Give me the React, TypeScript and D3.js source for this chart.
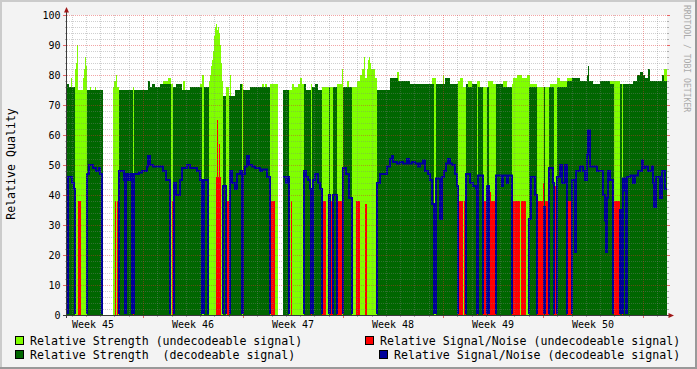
import React from 'react';
import * as d3 from 'd3';

// ---------------- data ----------------
// one sample per 100.8 minutes, starting Tue 2005-11-08 16:19:12 UTC (ISO week 45)
const seriesStartUtc = Date.UTC(2005, 10, 8, 16, 19, 12);
const sampleMinutes = 100.8;
const sampleCount = 600;
// sample ranges without any data [from, to)
const gapSamples: [number, number][] = [[36, 46], [211, 216]];

// step series: [sampleIndex, value] -> value holds until next entry
const strengthUndecodeableSteps: [number, number][] = [[0,0],[1,76],[3,0],[4,79],[5,0],[8,82],[9,84],[10,90],[11,75],[16,79],[17,82],[18,86],[19,83],[20,0],[23,76],[24,0],[28,76],[29,0],[46,76],[47,78],[49,80],[50,76],[52,0],[66,76],[67,0],[96,78],[101,79],[104,77],[106,0],[110,77],[114,0],[116,78],[118,0],[133,77],[135,80],[137,0],[142,78],[143,80],[144,83],[145,85],[146,88],[147,93],[148,96],[149,97],[150,95],[151,96],[152,94],[153,90],[154,84],[155,78],[156,0],[159,76],[162,0],[163,80],[164,0],[175,77],[176,0],[195,77],[197,0],[198,77],[200,0],[203,77],[211,0],[222,75],[225,77],[227,76],[231,77],[233,79],[235,77],[237,0],[244,77],[245,0],[255,76],[262,0],[263,76],[266,0],[270,77],[275,82],[276,0],[280,78],[282,0],[285,76],[290,78],[293,80],[295,82],[297,86],[298,79],[300,82],[301,85],[302,86],[303,84],[304,82],[308,79],[310,0],[330,81],[332,0],[365,79],[369,0],[376,80],[377,0],[391,78],[393,79],[396,76],[400,0],[401,78],[405,0],[410,78],[413,0],[416,76],[421,78],[426,77],[429,0],[436,78],[440,0],[445,77],[446,79],[450,80],[455,79],[460,80],[463,77],[470,76],[483,77],[490,79],[493,78],[500,79],[505,0],[543,78],[553,77],[560,0],[593,78],[595,0],[597,82]];

const snrUndecodeableSteps: [number, number][] = [[0,0],[11,38],[14,0],[48,38],[49,0],[50,38],[51,0],[66,38],[67,0],[105,38],[106,0],[149,46],[150,65],[151,46],[152,57],[153,46],[154,0],[160,38],[162,0],[204,38],[208,0],[224,38],[225,0],[244,38],[245,0],[255,38],[259,0],[263,38],[266,0],[270,38],[275,0],[289,38],[293,0],[298,37],[300,0],[391,38],[396,0],[397,38],[399,0],[410,38],[411,0],[416,38],[420,0],[421,41],[424,38],[429,0],[445,38],[453,0],[454,38],[459,0],[470,38],[476,44],[477,0],[478,38],[482,0],[487,43],[490,0],[500,38],[505,0],[547,38],[553,0],[555,38],[556,0]];

const strengthDecodeableSteps: [number, number][] = [[0,77],[2,76],[8,0],[20,75],[36,0],[52,75],[66,0],[67,75],[81,78],[83,76],[85,77],[88,76],[93,77],[104,0],[106,76],[109,77],[115,75],[123,76],[135,0],[137,76],[142,0],[156,73],[159,0],[162,73],[168,75],[173,77],[175,0],[176,75],[183,76],[203,0],[216,75],[222,0],[237,77],[239,75],[244,0],[245,76],[248,77],[251,75],[255,0],[262,76],[263,0],[266,76],[270,0],[276,76],[285,0],[310,75],[323,79],[331,78],[343,77],[367,0],[369,77],[378,79],[383,77],[391,0],[399,77],[401,76],[405,77],[410,0],[411,76],[416,0],[420,76],[422,0],[429,77],[436,76],[445,0],[462,76],[470,0],[477,76],[478,0],[482,76],[487,0],[490,76],[500,78],[505,79],[513,78],[520,80],[521,83],[522,78],[526,77],[533,78],[543,77],[547,0],[553,77],[555,0],[556,77],[566,78],[570,80],[573,81],[576,80],[578,79],[581,82],[583,78],[595,80],[597,78]];

const snrDecodeableSteps: [number, number][] = [[0,0],[1,46],[5,44],[7,42],[8,0],[20,47],[22,50],[26,49],[29,48],[32,49],[33,47],[35,0],[52,48],[57,45],[58,0],[59,47],[61,45],[63,47],[65,0],[67,47],[72,47.5],[75,48],[80,49.5],[81,53],[83,50],[86,49.5],[96,48],[99,45],[103,0],[107,44],[109,40],[113,45],[115,49],[120,50],[123,49],[130,48],[133,45],[135,0],[137,45],[141,0],[156,43],[159,0],[163,48],[165,44],[168,42],[170,47],[173,48],[175,0],[176,47],[178,49.5],[180,53],[182,50],[185,49.5],[188,49],[193,48],[195,48.5],[200,46],[203,0],[216,46],[219,44],[221,46],[222,0],[237,48],[239,46],[241,45],[243,42],[244,0],[246,45],[248,47],[251,44],[253,42],[255,0],[262,40],[263,0],[266,40],[270,0],[276,49],[279,47],[282,39],[285,0],[310,44],[313,47],[320,49.5],[323,52],[325,53],[326,51],[330,50.5],[333,51],[336,50.5],[340,52],[342,50.5],[345,51],[348,50.5],[351,49.5],[353,50.5],[356,51.5],[358,48],[361,47],[363,45],[365,37],[367,0],[369,45.5],[373,32],[375,46],[377,48],[379,50.5],[381,52],[383,50.5],[385,50],[388,47],[390,43],[391,0],[399,47],[403,44],[406,43],[409,42],[410,0],[411,46.5],[416,0],[420,43],[422,0],[429,46.5],[435,43],[436,46.5],[440,44],[441,46.5],[445,0],[462,32],[464,46],[468,40],[470,0],[477,36],[478,0],[482,49],[486,44],[487,0],[490,46],[493,50],[495,44],[498,50],[500,0],[505,45],[508,21],[509,48],[513,49.5],[516,48],[518,45],[520,53.5],[521,61.5],[523,49.5],[530,48],[536,40],[538,31.5],[539,21],[540,39],[541,48],[543,45],[546,0],[553,35],[555,0],[556,45.5],[558,41.5],[559,0],[560,46],[563,46.5],[566,44],[568,46.5],[571,48],[575,51.5],[576,49],[578,49.5],[581,48],[585,49.5],[586,44],[587,36],[589,46],[593,39],[595,48],[598,42]];

const weekLabels = ['Week 45', 'Week 46', 'Week 47', 'Week 48', 'Week 49', 'Week 50'];
const yTickValues = [0, 10, 20, 30, 40, 50, 60, 70, 80, 90, 100];
const yMinorStep = 2;
const yTitle = 'Relative Quality';
const watermark = 'RRDTOOL / TOBI OETIKER';

const legendRows = [
  [
    { label: 'Relative Strength (undecodeable signal)', color: '#80FF00' },
    { label: 'Relative Signal/Noise (undecodeable signal)', color: '#FF0000' },
  ],
  [
    { label: 'Relative Strength  (decodeable signal)', color: '#006600' },
    { label: 'Relative Signal/Noise (decodeable signal)', color: '#000099' },
  ],
];

// ---------------- helpers ----------------
function expand(steps: [number, number][]): number[] {
  const out = new Array(sampleCount).fill(0);
  for (let k = 0; k < steps.length; k++) {
    const from = steps[k][0];
    const to = k + 1 < steps.length ? steps[k + 1][0] : sampleCount;
    for (let i = from; i < to; i++) out[i] = steps[k][1];
  }
  return out;
}

const FONT = "'DejaVu Sans Mono', monospace";

export default function App() {
  const W = 697, H = 369;
  const left = 67, right = 667, top = 15, bottom = 315;
  const stepMs = sampleMinutes * 60000;
  const t0 = seriesStartUtc;
  const t1 = t0 + sampleCount * stepMs;

  const x = d3.scaleUtc().domain([new Date(t0), new Date(t1)]).range([left, right]);
  const y = d3.scaleLinear().domain([0, 100]).range([bottom, top]);

  const isGap = (i: number) => gapSamples.some(([a, b]) => i >= a && i < b);
  const segments: [number, number][] = [];
  let s = -1;
  for (let i = 0; i <= sampleCount; i++) {
    const ok = i < sampleCount && !isGap(i);
    if (ok && s < 0) s = i;
    if (!ok && s >= 0) { segments.push([s, i]); s = -1; }
  }

  type P = { t: number; v: number };
  const segPoints = (vals: number[]) =>
    segments.map(([a, b]) => {
      const pts: P[] = [];
      for (let i = a; i < b; i++) pts.push({ t: t0 + i * stepMs, v: vals[i] });
      pts.push({ t: t0 + b * stepMs, v: vals[b - 1] });
      return pts;
    });

  const area = d3.area<P>().x(p => x(new Date(p.t))).y0(y(0)).y1(p => y(p.v)).curve(d3.curveStepAfter);
  const line = d3.line<P>().x(p => x(new Date(p.t))).y(p => y(p.v)).curve(d3.curveStepAfter);

  const sU = segPoints(expand(strengthUndecodeableSteps));
  const nU = segPoints(expand(snrUndecodeableSteps));
  const sD = segPoints(expand(strengthDecodeableSteps));
  const nD = segPoints(expand(snrDecodeableSteps));

  // grid
  const days = d3.utcDay.range(new Date(t0), new Date(t1));
  const mondays = d3.utcMonday.range(d3.utcMonday.floor(new Date(t0)), new Date(t1));
  const minorY: number[] = [];
  for (let v = yMinorStep; v < 100; v += yMinorStep) if (v % 10 !== 0) minorY.push(v);

  const minorCol = 'rgba(128,128,128,0.38)';
  const majorCol = 'rgba(225,40,40,0.42)';
  const axisCol = '#3A3A3A';
  const arrowCol = '#A01818';

  return (
    <div style={{ position: 'absolute', left: 0, top: 0 }}>
      <svg width={W} height={H} style={{ display: 'block' }} fontFamily={FONT}>
        <defs>
          <clipPath id="plotClip"><rect x={left} y={top} width={right - left} height={bottom - top} /></clipPath>
          <clipPath id="lineClip"><rect x={left} y={top - 2} width={right - left} height={bottom - top + 1} /></clipPath>
        </defs>
        {/* background + 3d border */}
        <rect x={0} y={0} width={W} height={H} fill="#F3F3F3" />
        <rect x={0} y={0} width={W} height={2} fill="#CBCBCB" />
        <rect x={0} y={0} width={2} height={H} fill="#CBCBCB" />
        <rect x={0} y={H - 2} width={W} height={2} fill="#999999" />
        <rect x={W - 2} y={0} width={2} height={H} fill="#999999" />
        {/* canvas */}
        <rect x={left} y={top} width={right - left} height={bottom - top} fill="#FFFFFF" />

        <g clipPath="url(#plotClip)">
          {sU.map((pts, k) => <path key={'su' + k} d={area(pts) || ''} fill="#80FF00" />)}
          {sD.map((pts, k) => <path key={'sd' + k} d={area(pts) || ''} fill="#006600" />)}
          {nU.map((pts, k) => <path key={'nu' + k} d={area(pts) || ''} fill="#FF0000" />)}
        </g>
        <g clipPath="url(#lineClip)">
          {nD.map((pts, k) => <path key={'nd' + k} d={line(pts) || ''} fill="none" stroke="#000099" strokeWidth={2} />)}
        </g>

        {/* grid on top */}
        <g shapeRendering="crispEdges">
          {minorY.map(v => (
            <line key={'my' + v} x1={left} x2={right} y1={Math.round(y(v)) + 0.5} y2={Math.round(y(v)) + 0.5}
              stroke={minorCol} strokeDasharray="1,1" />
          ))}
          {days.filter(d => d.getUTCDay() !== 1).map(d => {
            const xx = Math.round(x(d)) + 0.5;
            return <line key={'mx' + d.getTime()} x1={xx} x2={xx} y1={top} y2={bottom} stroke={minorCol} strokeDasharray="1,1" />;
          })}
          {yTickValues.filter(v => v > 0).map(v => (
            <line key={'My' + v} x1={left} x2={right} y1={Math.round(y(v)) + 0.5} y2={Math.round(y(v)) + 0.5}
              stroke={majorCol} strokeDasharray="1,1" />
          ))}
          {mondays.filter(d => x(d) > left).map(d => {
            const xx = Math.round(x(d)) + 0.5;
            return <line key={'Mx' + d.getTime()} x1={xx} x2={xx} y1={top} y2={bottom} stroke={majorCol} strokeDasharray="1,1" />;
          })}
          {/* ticks */}
          {minorY.map(v => (
            <g key={'ty' + v}>
              <line x1={left - 2} x2={left} y1={Math.round(y(v)) + 0.5} y2={Math.round(y(v)) + 0.5} stroke="rgba(128,128,128,0.6)" />
              <line x1={right} x2={right + 2} y1={Math.round(y(v)) + 0.5} y2={Math.round(y(v)) + 0.5} stroke="rgba(128,128,128,0.6)" />
            </g>
          ))}
          {yTickValues.map(v => (
            <g key={'tY' + v}>
              <line x1={left - 4} x2={left} y1={Math.round(y(v)) + 0.5} y2={Math.round(y(v)) + 0.5} stroke={v === 0 ? axisCol : 'rgba(225,40,40,0.7)'} />
              <line x1={right} x2={right + 3} y1={Math.round(y(v)) + 0.5} y2={Math.round(y(v)) + 0.5} stroke="rgba(225,40,40,0.7)" />
            </g>
          ))}
          {days.filter(d => d.getUTCDay() !== 1).map(d => {
            const xx = Math.round(x(d)) + 0.5;
            return <line key={'tx' + d.getTime()} x1={xx} x2={xx} y1={bottom} y2={bottom + 2} stroke="rgba(128,128,128,0.6)" />;
          })}
          {mondays.filter(d => x(d) > left).map(d => {
            const xx = Math.round(x(d)) + 0.5;
            return <line key={'tX' + d.getTime()} x1={xx} x2={xx} y1={bottom} y2={bottom + 3} stroke="rgba(225,40,40,0.7)" />;
          })}
          {/* axes */}
          <line x1={left - 2} x2={right + 2} y1={bottom + 0.5} y2={bottom + 0.5} stroke={axisCol} />
          <line x1={left - 0.5} x2={left - 0.5} y1={bottom + 3} y2={top - 4} stroke={axisCol} />
        </g>
        <polygon points={`${left - 0.5},${top - 8} ${left - 3},${top - 2.5} ${left + 2},${top - 2.5}`} fill={arrowCol} />
        <polygon points={`${right + 7},${bottom + 0.5} ${right + 1.5},${bottom - 2} ${right + 1.5},${bottom + 3}`} fill={arrowCol} />

        {/* y labels */}
        {yTickValues.map(v => (
          <text key={'yl' + v} x={60.5} y={y(v) + 3.6} textAnchor="end" fontSize={10} fill="#000">{v}</text>
        ))}
        {/* x labels: centred in each week */}
        {mondays.map((d, k) => k < weekLabels.length ? (
          <text key={'wl' + k} x={x(new Date(d.getTime() + 3.5 * 86400000))} y={327.5} textAnchor="middle" fontSize={10} fill="#000">
            {weekLabels[k]}
          </text>
        ) : null)}

        {/* y title */}
        <text transform={`translate(15.3,164) rotate(-90)`} textAnchor="middle" fontSize={11.6} fill="#000">{yTitle}</text>

        {/* watermark */}
        <text transform={`translate(684,5) rotate(90)`} fontSize={8.1} fill="#AAAAAA">{watermark}</text>

        {/* legend */}
        {legendRows.map((row, r) => {
          const boxY = r === 0 ? 336.5 : 350.5;
          const baseY = r === 0 ? 345 : 359;
          const colX = [15.5, r === 0 ? 365.5 : 379.5];
          return row.map((item, c) => (
            <g key={'lg' + r + c}>
              <rect x={colX[c]} y={boxY} width={8} height={8} fill={item.color} stroke="#000" strokeWidth={1} />
              <text x={colX[c] + 14.5} y={baseY} fontSize={11.6} fill="#000" style={{ whiteSpace: 'pre' }}>{item.label}</text>
            </g>
          ));
        })}
      </svg>
    </div>
  );
}
